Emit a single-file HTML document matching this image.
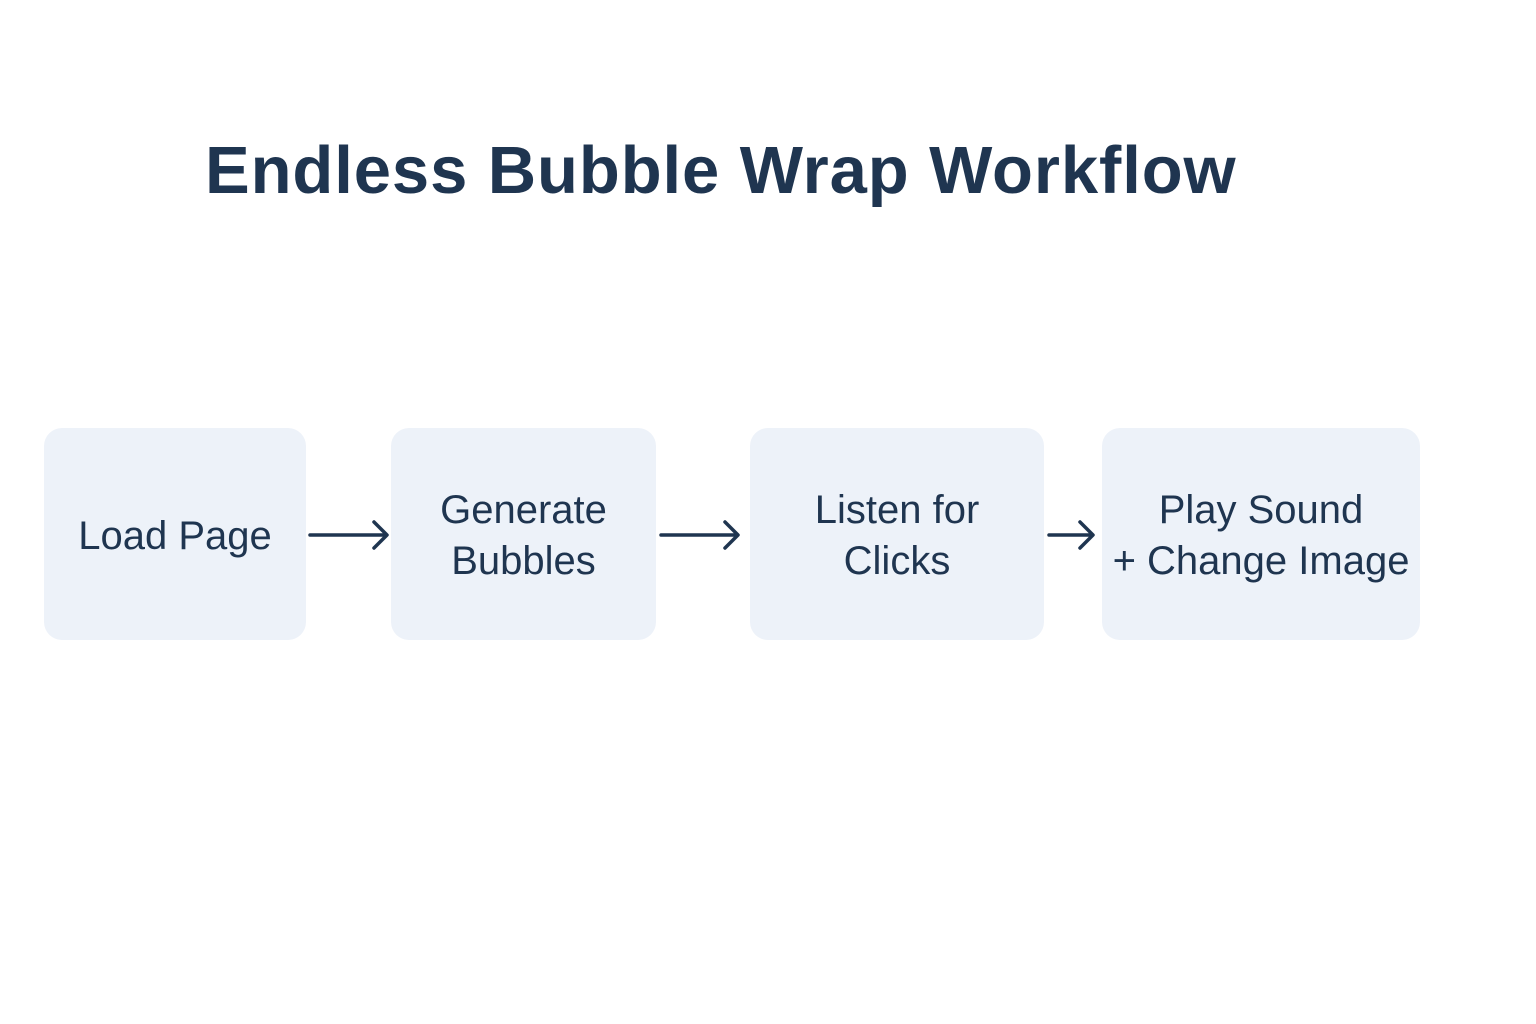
<!DOCTYPE html>
<html><head><style>
body{margin:0;width:1536px;height:1024px;background:#fff;position:relative;font-family:"Liberation Sans",sans-serif;color:#1f3550;overflow:hidden}
.t{position:absolute;left:205px;top:132px;width:1040px;font-size:67px;font-weight:bold;white-space:nowrap;letter-spacing:0.9px}
.b{position:absolute;top:428px;height:212px;background:#edf2f9;border-radius:18px;display:flex;align-items:center;justify-content:center;text-align:center;font-size:40px;line-height:51px;padding-top:4px;box-sizing:border-box}
svg{position:absolute;left:0;top:0}
</style></head><body>
<div class="t">Endless Bubble Wrap Workflow</div>
<div class="b" style="left:44px;width:262px">Load Page</div>
<div class="b" style="left:391px;width:265px">Generate<br>Bubbles</div>
<div class="b" style="left:750px;width:294px">Listen for<br>Clicks</div>
<div class="b" style="left:1102px;width:318px">Play Sound<br>+ Change Image</div>
<svg width="1536" height="1024" fill="none" stroke="#1f3550" stroke-width="3.5" stroke-linecap="round" stroke-linejoin="round">
<path d="M310 535H386M374 522L387 535L374 548"/>
<path d="M661 535H737M725 522L738 535L725 548"/>
<path d="M1049 535H1092M1080 522L1093 535L1080 548"/>
</svg>
</body></html>
